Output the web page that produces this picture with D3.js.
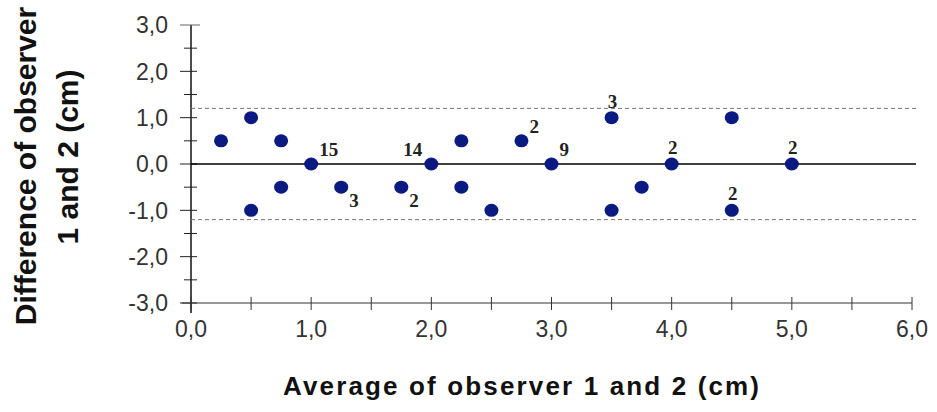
<!DOCTYPE html>
<html>
<head>
<meta charset="utf-8">
<script src="https://cdn.jsdelivr.net/npm/d3@7"></script>
<style>
  body { margin: 0; background: #fff; }
  .tickLabel { font-family: "Liberation Sans", Arial, sans-serif; font-size: 23px; fill: #333; }
  .axisTitle { font-family: "Liberation Sans", Arial, sans-serif; font-weight: bold; fill: #111; }
  .countLabel { font-family: "Liberation Serif", "Times New Roman", serif; font-weight: bold; font-size: 19px; fill: #222; }
</style>
</head>
<body>
<script>
(function(){

    // data
    var avgValues  = [0.25, 0.5, 0.5, 0.75, 0.75, 1.0, 1.25, 1.75, 2.0, 2.25, 2.25, 2.5, 2.75, 3.0, 3.5, 3.5, 3.75, 4.0, 4.5, 4.5, 5.0];
    var diffValues = [0.5, 1.0, -1.0, 0.5, -0.5, 0.0, -0.5, -0.5, 0.0, 0.5, -0.5, -1.0, 0.5, 0.0, 1.0, -1.0, -0.5, 0.0, 1.0, -1.0, 0.0];
    var counts     = [1, 1, 1, 1, 1, 15, 3, 2, 14, 1, 1, 1, 2, 9, 3, 1, 1, 2, 1, 2, 2];
    var labelSide  = ["", "", "", "", "", "ne", "se", "se", "nw", "", "", "", "ne", "ne", "n", "", "", "n", "", "n", "n"];
    var xTicks = [0, 1, 2, 3, 4, 5, 6];
    var yTicks = [-3, -2, -1, 0, 1, 2, 3];
    var limitOfAgreement = 1.2;

    var width = 937, height = 412;
    var left = 191, right = 912, top = 25, bottom = 303;

    var svg = d3.select("body")
        .append("svg")
        .attr("width", width)
        .attr("height", height);

    var x = d3.scaleLinear().domain([0, 6]).range([left, right]);
    var y = d3.scaleLinear().domain([-3, 3]).range([bottom, top]);
    var fmt = function(v){ return d3.format(".1f")(v).replace(".", ",").replace("−", "-"); };

    // y axis with crossing ticks
    var yMinor = d3.range(-2.5, 3, 1);
    svg.append("line")
        .attr("x1", left).attr("x2", left)
        .attr("y1", top).attr("y2", bottom + 10)
        .attr("stroke", "#111").attr("stroke-width", 1.5);
    svg.selectAll(".yMajor").data(yTicks).enter().append("line")
        .attr("x1", left - 11).attr("x2", function(d){ return d === 3 ? left + 9 : left + 6; })
        .attr("y1", function(d){ return y(d); }).attr("y2", function(d){ return y(d); })
        .attr("stroke", function(d){ return d === 3 ? "#666" : "#222"; }).attr("stroke-width", 1);
    svg.selectAll(".yMinor").data(yMinor).enter().append("line")
        .attr("x1", left - 7).attr("x2", left + 6)
        .attr("y1", function(d){ return y(d); }).attr("y2", function(d){ return y(d); })
        .attr("stroke", "#222").attr("stroke-width", 1);
    svg.selectAll(".yLab").data(yTicks).enter().append("text")
        .attr("class", "tickLabel")
        .attr("x", 168)
        .attr("y", function(d){ return y(d); })
        .attr("dy", "0.36em")
        .attr("text-anchor", "end")
        .text(fmt);

    // x axis with crossing ticks
    var xAll = d3.range(0, 6.01, 0.5);
    svg.append("line")
        .attr("x1", left - 9).attr("x2", right)
        .attr("y1", bottom).attr("y2", bottom)
        .attr("stroke", "#333").attr("stroke-width", 1.2);
    svg.selectAll(".xTick").data(xAll).enter().append("line")
        .attr("x1", function(d){ return x(d); }).attr("x2", function(d){ return x(d); })
        .attr("y1", bottom - 6).attr("y2", bottom + 7)
        .attr("stroke", "#333").attr("stroke-width", 1);
    svg.selectAll(".xLab").data(xTicks).enter().append("text")
        .attr("class", "tickLabel")
        .attr("x", function(d){ return x(d); })
        .attr("y", 337)
        .attr("text-anchor", "middle")
        .text(fmt);

    // limits of agreement and zero line
    [limitOfAgreement, -limitOfAgreement].forEach(function(v){
        svg.append("line")
            .attr("x1", left).attr("x2", right + 4)
            .attr("y1", y(v)).attr("y2", y(v))
            .attr("stroke", "#777").attr("stroke-width", 1)
            .attr("stroke-dasharray", "4,3");
    });
    svg.append("line")
        .attr("x1", left).attr("x2", right + 4)
        .attr("y1", y(0)).attr("y2", y(0))
        .attr("stroke", "#000").attr("stroke-width", 1.6);

    // points
    var pts = avgValues.map(function(v, i){
        return { avg: v, diff: diffValues[i], n: counts[i], side: labelSide[i] };
    });

    svg.selectAll(".dot").data(pts).enter().append("ellipse")
        .attr("class", "dot")
        .attr("cx", function(d){ return x(d.avg); })
        .attr("cy", function(d){ return y(d.diff); })
        .attr("rx", 7)
        .attr("ry", 6.5)
        .attr("fill", "#0b1a80");

    var offsets = { ne: [8, -8, "start"], nw: [-9, -8, "end"], se: [8, 20, "start"], n: [1, -10, "middle"] };
    svg.selectAll(".countLabel").data(pts.filter(function(d){ return d.n > 1; })).enter().append("text")
        .attr("class", "countLabel")
        .attr("x", function(d){ return x(d.avg) + offsets[d.side][0]; })
        .attr("y", function(d){ return y(d.diff) + offsets[d.side][1]; })
        .attr("text-anchor", function(d){ return offsets[d.side][2]; })
        .text(function(d){ return d.n; });

    // axis titles
    svg.append("text")
        .attr("class", "axisTitle")
        .attr("x", 521).attr("y", 395)
        .attr("text-anchor", "middle")
        .attr("font-size", 26)
        .attr("textLength", 476)
        .attr("lengthAdjust", "spacing")
        .text("Average of observer 1 and 2 (cm)");

    svg.append("text")
        .attr("class", "axisTitle")
        .attr("transform", "translate(36,166) rotate(-90)")
        .attr("text-anchor", "middle")
        .attr("font-size", 30)
        .text("Difference of observer");

    svg.append("text")
        .attr("class", "axisTitle")
        .attr("transform", "translate(78,157) rotate(-90)")
        .attr("text-anchor", "middle")
        .attr("font-size", 30)
        .text("1 and 2 (cm)");

})();
</script>
</body>
</html>
